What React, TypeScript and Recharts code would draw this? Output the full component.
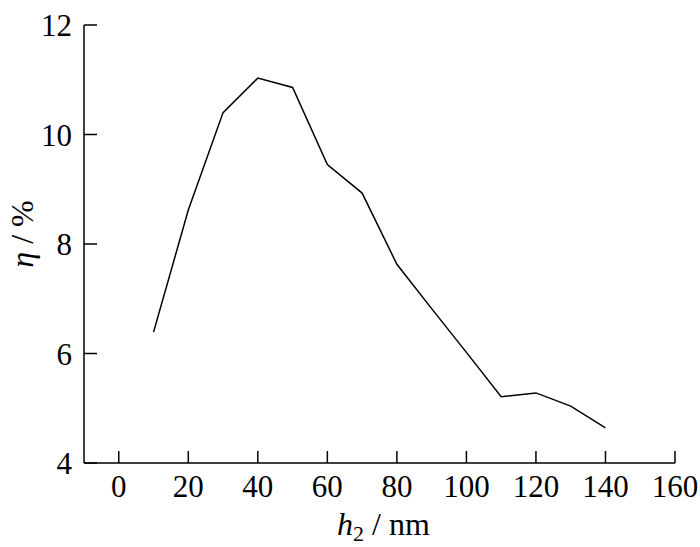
import { LineChart, Line, XAxis, YAxis, Label } from 'recharts';

// h2 (nm) vs efficiency η (%)
const h2 = [10, 20, 30, 40, 50, 60, 70, 80, 90, 100, 110, 120, 130, 140];
const eta = [6.39, 8.62, 10.4, 11.03, 10.86, 9.45, 8.93, 7.63, 6.82, 6.02, 5.21, 5.28, 5.04, 4.64];
const xTicks = [0, 20, 40, 60, 80, 100, 120, 140, 160];
const yTicks = [4, 6, 8, 10, 12];

const data = h2.map((h, i) => ({ h2: h, eta: eta[i] }));

const font = '"Liberation Serif", "Times New Roman", serif';

const XLabel = (props: any) => {
  const vb = props.viewBox;
  const cx = vb.x + vb.width / 2 + 4;
  return (
    <text x={cx} y={535} textAnchor="middle" fontFamily={font} fontSize={32} fill="#000">
      <tspan fontStyle="italic">h</tspan>
      <tspan fontSize={22} dy={6}>2</tspan>
      <tspan dy={-6}> / nm</tspan>
    </text>
  );
};

const YLabel = () => (
  <text
    x={33}
    y={234}
    transform="rotate(-90, 33, 234)"
    textAnchor="middle"
    fontFamily={font}
    fontSize={32}
    fill="#000"
  >
    <tspan fontStyle="italic">η</tspan>
    <tspan> / %</tspan>
  </text>
);

export default function App() {
  return (
    <div style={{ position: 'absolute', left: 0, top: 0, background: '#fff' }}>
      <LineChart
        width={700}
        height={547}
        data={data}
        margin={{ top: 25, right: 25, left: 0, bottom: 0 }}
      >
        <XAxis
          dataKey="h2"
          type="number"
          domain={[-10, 160]}
          ticks={xTicks}
          height={84}
          tickSize={-12}
          tickMargin={24}
          stroke="#000"
          strokeWidth={1.5}
          tick={{ fill: '#000', fontSize: 31, fontFamily: font }}
          interval={0}
        >
          <Label content={XLabel} />
        </XAxis>
        <YAxis
          type="number"
          domain={[4, 12]}
          ticks={yTicks}
          width={84}
          tickSize={-13}
          tickMargin={25}
          stroke="#000"
          strokeWidth={1.5}
          tick={{ fill: '#000', fontSize: 31, fontFamily: font }}
          interval={0}
        >
          <Label content={YLabel} />
        </YAxis>
        <Line
          dataKey="eta"
          type="linear"
          stroke="#000"
          strokeWidth={1.5}
          dot={false}
          isAnimationActive={false}
        />
      </LineChart>
    </div>
  );
}
